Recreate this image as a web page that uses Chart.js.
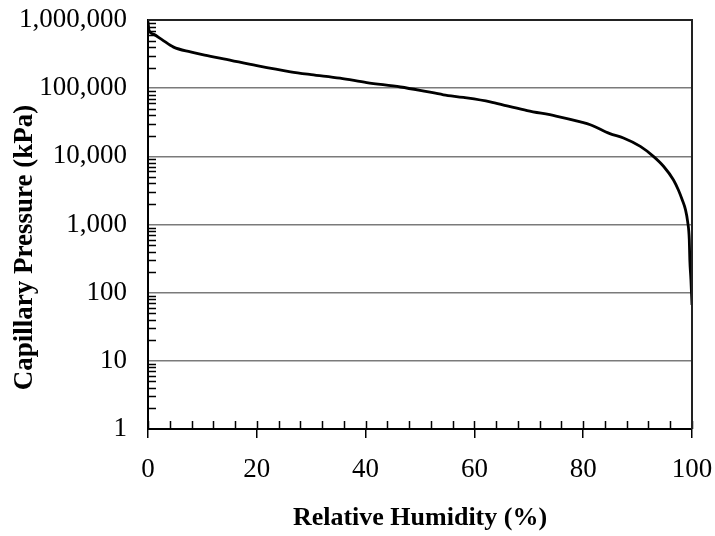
<!DOCTYPE html>
<html>
<head>
<meta charset="utf-8">
<script src="https://cdn.jsdelivr.net/npm/chart.js@4/dist/chart.umd.min.js"></script>
<style>
  html, body { margin: 0; padding: 0; background: #ffffff; }
  #wrap { width: 715px; height: 536px; }
</style>
</head>
<body>
<div id="wrap"><canvas id="c" width="715" height="536"></canvas></div>
<script>
// ---- data ----
const relativeHumidity = [0, 0.2, 1, 2.5, 4.7, 7.8, 10, 13.9, 20, 26.2, 30, 35.3, 40.2, 46.4, 50, 54.3, 58, 62.9, 66, 69.7, 75, 79.5, 81.3, 84.9, 87.4, 90.5, 92.9, 94.8, 96.6, 97.5, 98.2, 98.8, 99.2, 99.5, 99.6, 99.8, 100];
const capillaryPressure = [950000, 700000, 620000, 520000, 400000, 340000, 310000, 270000, 214000, 174000, 158000, 140000, 121000, 104000, 93000, 80000, 73000, 63000, 55000, 47000, 39000, 32000, 29100, 21500, 18600, 14000, 10000, 7100, 4500, 3200, 2300, 1650, 1100, 600, 300, 155, 66];

const yTickValues = [1, 10, 100, 1000, 10000, 100000, 1000000];
const xTickStep = 20;
const xMinorStep = 4;
const yMinorMultipliers = [2, 3, 4, 5, 6, 7, 8, 9];
const xTitle = 'Relative Humidity (%)';
const yTitle = 'Capillary Pressure (kPa)';

const FONT = "'Liberation Serif', 'Times New Roman', serif";

const points = relativeHumidity.map((x, i) => ({ x: x, y: capillaryPressure[i] }));

const decorPlugin = {
  id: 'decor',
  afterDraw(chart) {
    const ctx = chart.ctx;
    const xs = chart.scales.x, ys = chart.scales.y;
    const area = chart.chartArea;
    ctx.save();
    ctx.strokeStyle = '#000000';
    ctx.lineWidth = 1.5;
    // minor y ticks (inside)
    ctx.beginPath();
    for (let i = 0; i < yTickValues.length - 1; i++) {
      for (const m of yMinorMultipliers) {
        const py = Math.round(ys.getPixelForValue(yTickValues[i] * m)) + 0.5;
        ctx.moveTo(area.left, py);
        ctx.lineTo(area.left + 8, py);
      }
    }
    // x ticks (inside) every minor step
    for (let v = xs.min; v <= xs.max; v += xMinorStep) {
      const px = Math.round(xs.getPixelForValue(v)) + 0.5;
      ctx.moveTo(px, area.bottom);
      ctx.lineTo(px, area.bottom - 8);
    }
    ctx.stroke();
    // top and right frame
    ctx.strokeStyle = '#222222';
    ctx.lineWidth = 2;
    ctx.beginPath();
    ctx.moveTo(area.left, area.top);
    ctx.lineTo(area.right, area.top);
    ctx.lineTo(area.right, area.bottom);
    ctx.stroke();
    // y title
    ctx.fillStyle = '#000000';
    ctx.font = 'bold 27px ' + FONT;
    ctx.textAlign = 'center';
    ctx.textBaseline = 'middle';
    ctx.translate(25, (area.top + area.bottom) / 2 + 23);
    ctx.rotate(-Math.PI / 2);
    ctx.fillText(yTitle, 0, 0);
    ctx.restore();
  }
};

new Chart(document.getElementById('c'), {
  type: 'line',
  data: {
    datasets: [{
      data: points,
      borderColor: '#000000',
      borderWidth: 2.8,
      pointRadius: 0,
      fill: false,
      cubicInterpolationMode: 'monotone'
    }]
  },
  options: {
    responsive: false,
    animation: false,
    events: [],
    layout: { padding: { top: 20, right: 23, left: 0, bottom: 0 } },
    plugins: { legend: { display: false }, tooltip: { enabled: false } },
    scales: {
      x: {
        type: 'linear',
        min: 0,
        max: 100,
        afterFit(scale) { scale.height = 107; scale.paddingLeft = 0; scale.paddingRight = 0; },
        ticks: {
          stepSize: xTickStep,
          color: '#000000',
          padding: 16,
          font: { family: FONT, size: 27 }
        },
        grid: { drawOnChartArea: false, drawTicks: true, tickLength: 9, color: '#000000', lineWidth: 1.5 },
        border: { display: true, color: '#000000', width: 2 },
        title: {
          display: true,
          text: xTitle,
          color: '#000000',
          font: { family: FONT, size: 26, weight: 'bold', lineHeight: 1.2 },
          padding: { top: 0, bottom: 2 }
        }
      },
      y: {
        type: 'logarithmic',
        min: 1,
        max: 1000000,
        afterFit(scale) { scale.width = 148; scale.paddingTop = 0; scale.paddingBottom = 0; },
        afterBuildTicks(scale) { scale.ticks = yTickValues.map(v => ({ value: v })); },
        ticks: {
          color: '#000000',
          padding: 21,
          font: { family: FONT, size: 27 },
          callback: (v) => Number(v).toLocaleString('en-US')
        },
        grid: { drawTicks: false, color: '#7a7a7a', lineWidth: 1.5 },
        border: { display: true, color: '#000000', width: 2 }
      }
    }
  },
  plugins: [decorPlugin]
});
</script>
</body>
</html>
